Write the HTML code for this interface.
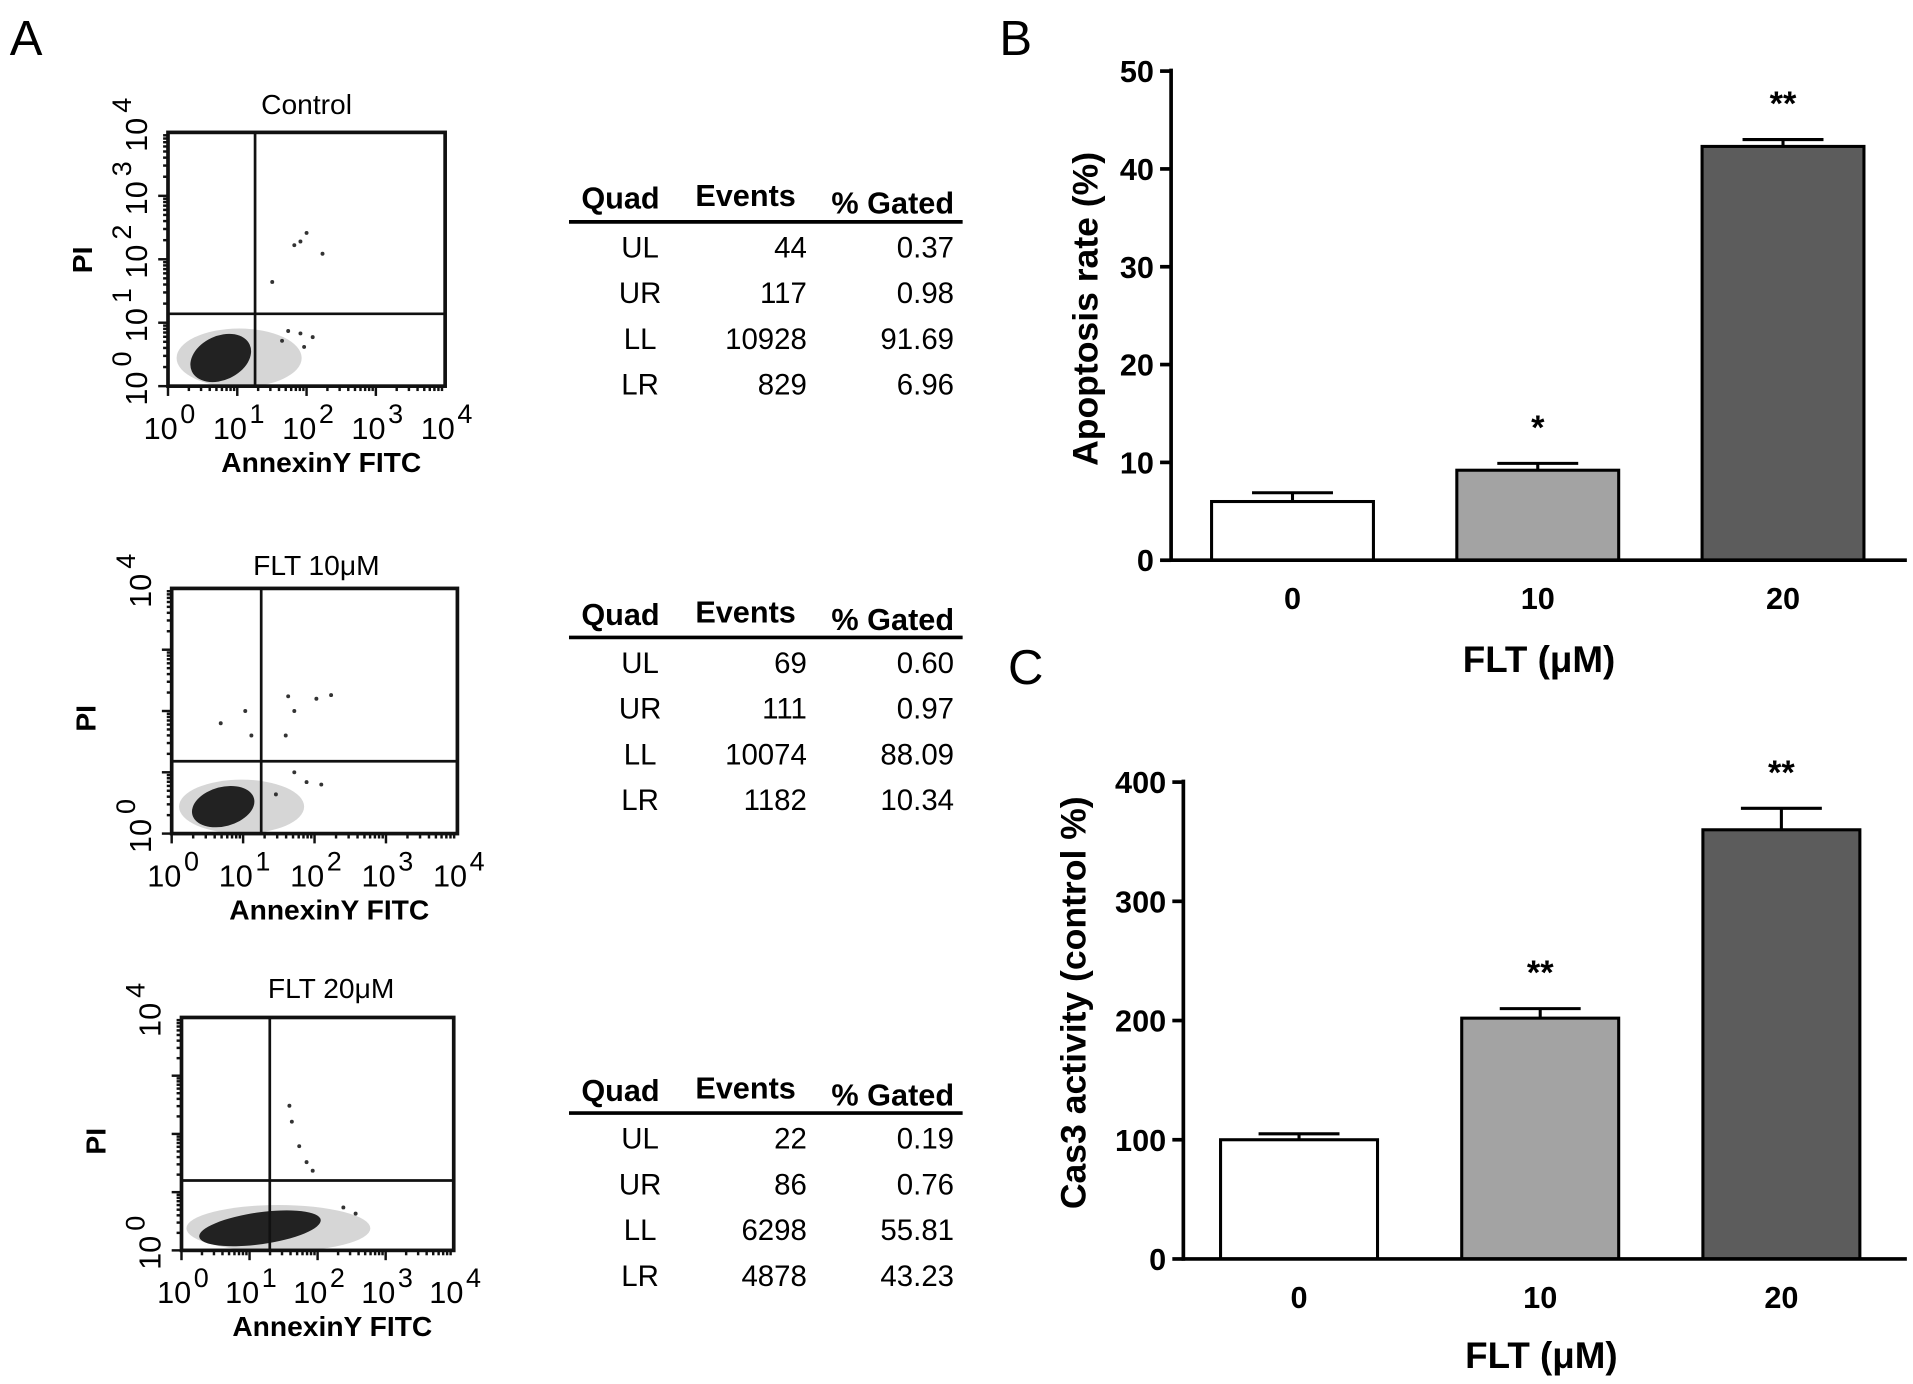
<!DOCTYPE html>
<html><head><meta charset="utf-8">
<style>
html,body{margin:0;padding:0;background:#fff;}
svg{display:block;font-family:"Liberation Sans",Arial,sans-serif;}
</style></head>
<body>
<svg id="fig" width="1913" height="1384" viewBox="0 0 1560 1129" preserveAspectRatio="none" xmlns="http://www.w3.org/2000/svg">
<rect width="1560" height="1129" fill="#fff"/>
<text x="8" y="45" font-size="40">A</text>
<text x="815" y="45" font-size="40">B</text>
<text x="822" y="558" font-size="40">C</text>
<g id="flow"></g>
<g id="tables"></g>
<g id="chartB"></g>
<g id="chartC"></g>
</svg>
<script>
// ---- Bar chart data ----
const doses = ["0","10","20"];
const apoptosisValues = [6.0, 9.2, 42.3];
const apoptosisErrors = [0.9, 0.7, 0.7];
const apoptosisStars = ["", "*", "**"];
const apoptosisTicks = [0,10,20,30,40,50];
const cas3Values = [100, 202, 360];
const cas3Errors = [5, 8, 18];
const cas3Stars = ["", "**", "**"];
const cas3Ticks = [0,100,200,300,400];
const barColors = ["#ffffff","#a3a3a3","#5c5c5c"];

// ---- Flow tables data ----
const tableQuads = ["UL","UR","LL","LR"];
const tableEvents = [[44,117,10928,829],[69,111,10074,1182],[22,86,6298,4878]];
const tableGated = [["0.37","0.98","91.69","6.96"],["0.60","0.97","88.09","10.34"],["0.19","0.76","55.81","43.23"]];

const NS="http://www.w3.org/2000/svg";
function mk(parent,tag,attrs,text){const e=document.createElementNS(NS,tag);for(const k in attrs)e.setAttribute(k,attrs[k]);if(text!==undefined)e.textContent=text;parent.appendChild(e);return e;}

function barChart(g,o){
  const yS=v=>o.y0-(v-o.vmin)/(o.vmax-o.vmin)*(o.y0-o.y1);
  const band=(o.xr-o.xl)/doses.length;
  o.ticks.forEach(t=>{
    const y=yS(t);
    const l=mk(g,"line",{x1:o.xl-9,x2:o.xl,y1:y,y2:y,stroke:"#000","stroke-width":3});
    
    
    const tx=mk(g,"text",{x:o.xl-14,y:y+9,"font-size":25,"font-weight":"bold","text-anchor":"end"},String(t));
    
    
  });
  o.values.forEach((v,i)=>{
    const cx=o.xl+band*(i+0.5)+o.shift;
    const w=o.bw;
    const top=yS(v),etop=yS(v+o.errors[i]);
    const eb=mk(g,"line",{x1:cx,x2:cx,y1:top,y2:etop,stroke:"#000","stroke-width":2.5});
    
    
    const ec=mk(g,"line",{x1:cx-33,x2:cx+33,y1:etop,y2:etop,stroke:"#000","stroke-width":2.5});
    
    
    const r=mk(g,"rect",{x:cx-w/2,y:top,width:w,height:o.y0-top,fill:barColors[i],stroke:"#000","stroke-width":2.5});
    
    
    const lb=mk(g,"text",{x:cx,y:o.y0+40,"font-size":25,"font-weight":"bold","text-anchor":"middle"},doses[i]);
    
    
    if(o.stars[i]){
      const st=mk(g,"text",{x:cx,y:etop-20,"font-size":28,"font-weight":"bold","text-anchor":"middle"},o.stars[i]);
      
      
    }
  });
  const ya=mk(g,"line",{x1:o.xl,x2:o.xl,y1:o.y1-2,y2:o.y0+1.5,stroke:"#000","stroke-width":3});
  
  
  const xa=mk(g,"line",{x1:o.xl,x2:o.xr,y1:o.y0,y2:o.y0,stroke:"#000","stroke-width":3});
  
  
  const xt=mk(g,"text",{x:o.xlabX,y:o.xlabY,"font-size":30,"font-weight":"bold","text-anchor":"middle"},"FLT (μM)");
  
  
  const yt=mk(g,"text",{x:0,y:0,"font-size":29,"font-weight":"bold","text-anchor":"middle",transform:`translate(${o.ylabX},${o.ylabY}) rotate(-90)`},o.ylab);
  
  
}
barChart(document.getElementById('chartB'),{xl:955,xr:1555,y0:457,y1:58,vmin:0,vmax:50,values:apoptosisValues,errors:apoptosisErrors,stars:apoptosisStars,ticks:apoptosisTicks,bw:132,shift:-1,xlabX:1255,xlabY:548,ylab:"Apoptosis rate (%)",ylabX:895,ylabY:252});
barChart(document.getElementById('chartC'),{xl:965,xr:1555,y0:1027,y1:638,vmin:0,vmax:400,values:cas3Values,errors:cas3Errors,stars:cas3Stars,ticks:cas3Ticks,bw:128,shift:-4,xlabX:1257,xlabY:1116,ylab:"Cas3 activity (control %)",ylabX:885,ylabY:818});

// ---- tables ----
const tg=document.getElementById('tables');
[[162,181],[502,520],[890,908]].forEach(([hy,ly],t)=>{
  const g=mk(tg,"g",{});
  
  
  mk(g,"text",{x:506,y:hy+8,"font-size":25,"font-weight":"bold","text-anchor":"middle"},"Quad");
  mk(g,"text",{x:608,y:hy+6,"font-size":25,"font-weight":"bold","text-anchor":"middle"},"Events");
  mk(g,"text",{x:728,y:hy+12,"font-size":25,"font-weight":"bold","text-anchor":"middle"},"% Gated");
  mk(g,"line",{x1:464,x2:785,y1:ly,y2:ly,stroke:"#000","stroke-width":3});
  tableQuads.forEach((q,i)=>{
    const y=ly+29+i*37.3;
    mk(g,"text",{x:522,y:y,"font-size":24,"text-anchor":"middle"},q);
    mk(g,"text",{x:658,y:y,"font-size":24,"text-anchor":"end"},String(tableEvents[t][i]));
    mk(g,"text",{x:778,y:y,"font-size":24,"text-anchor":"end"},tableGated[t][i]);
  });
});

// ---- flow plots ----
const fg=document.getElementById('flow');
const plots=[
 {x1:137,x2:363,y1:108,y2:315,vx:208,hy:256,title:"Control",tx:250,ty:93,blob:[180,292],rx:26,ry:18,rot:-25,fullY:true},
 {x1:140,x2:373,y1:480,y2:680,vx:213,hy:621,title:"FLT 10μM",tx:258,ty:469,blob:[182,658],rx:26,ry:16,rot:-15,fullY:false},
 {x1:148,x2:370,y1:830,y2:1020,vx:220,hy:963,title:"FLT 20μM",tx:270,ty:814,blob:[212,1002],rx:50,ry:13,rot:-8,fullY:false}
];
plots.forEach((p,k)=>{
  const g=mk(fg,"g",{});
  
  
  mk(g,"text",{x:p.tx,y:p.ty,"font-size":23,"text-anchor":"middle"},p.title);
  mk(g,"ellipse",{cx:p.blob[0]+15,cy:p.blob[1],rx:p.rx+25,ry:p.ry+6,fill:"#777",opacity:0.3});
  mk(g,"ellipse",{cx:p.blob[0],cy:p.blob[1],rx:p.rx,ry:p.ry,fill:"#222",transform:`rotate(${p.rot} ${p.blob[0]} ${p.blob[1]})`});
  mk(g,"rect",{x:p.x1,y:p.y1,width:p.x2-p.x1,height:p.y2-p.y1,fill:"none",stroke:"#111","stroke-width":3});
  mk(g,"line",{x1:p.vx,x2:p.vx,y1:p.y1,y2:p.y2,stroke:"#111","stroke-width":2.2});
  mk(g,"line",{x1:p.x1,x2:p.x2,y1:p.hy,y2:p.hy,stroke:"#111","stroke-width":2.2});
  for(let d=0;d<4;d++){for(let m=1;m<10;m++){
    const f=(d+Math.log10(m))/4;
    const len=m==1?8:4;
    const xx=p.x1+f*(p.x2-p.x1);
    mk(g,"line",{x1:xx,x2:xx,y1:p.y2,y2:p.y2+len,stroke:"#111","stroke-width":2});
    const yy=p.y2-f*(p.y2-p.y1);
    mk(g,"line",{x1:p.x1-len,x2:p.x1,y1:yy,y2:yy,stroke:"#111","stroke-width":2});
  }}
  for(let d=0;d<=4;d++){
    const xx=p.x1+d/4*(p.x2-p.x1);
    mk(g,"text",{x:xx-6,y:p.y2+43,"font-size":25,"text-anchor":"middle"},"10");
    mk(g,"text",{x:xx+10,y:p.y2+30,"font-size":22},String(d));
  }
  mk(g,"text",{x:(p.x1+p.x2)/2+12,y:p.y2+70,"font-size":23,"font-weight":"bold","text-anchor":"middle"},"AnnexinY FITC");
  const ys=p.fullY?[0,1,2,3,4]:[0,4];
  ys.forEach(d=>{
    const yy=p.y2-d/4*(p.y2-p.y1);
    mk(g,"text",{x:0,y:0,"font-size":25,"text-anchor":"middle",transform:`translate(${p.x1-17},${yy+2}) rotate(-90)`},"10");
    mk(g,"text",{x:0,y:0,"font-size":22,transform:`translate(${p.x1-30},${yy-16}) rotate(-90)`},String(d));
  });
  mk(g,"text",{x:0,y:0,"font-size":23,"font-weight":"bold","text-anchor":"middle",transform:`translate(${p.x1-62},${p.fullY?212:(p.y1+p.y2)/2+6}) rotate(-90)`},"PI");
});
const dots=[[245,197],[240,200],[250,190],[263,207],[222,230],[235,270],[245,272],[255,275],[230,278],[248,283],
[235,568],[240,580],[233,600],[258,570],[270,567],[180,590],[200,580],[205,600],[240,630],[250,638],[262,640],[225,648],
[236,902],[238,915],[244,935],[250,948],[255,955],[280,985],[290,990]];
dots.forEach(d=>mk(fg,"circle",{cx:d[0],cy:d[1],r:1.6,fill:"#333"}));
</script>
</body></html>
